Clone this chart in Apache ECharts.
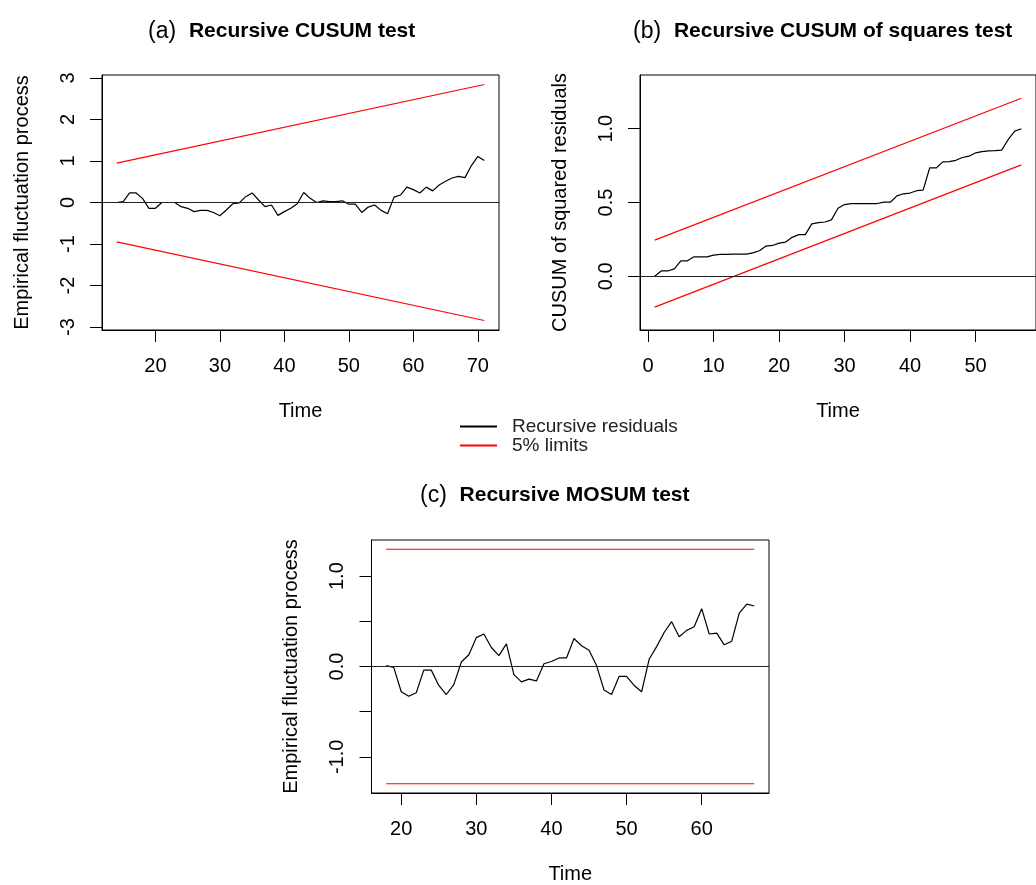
<!DOCTYPE html>
<html>
<head>
<meta charset="UTF-8">
<title>Recursive CUSUM / MOSUM tests</title>
<style>html,body{margin:0;padding:0;background:#fff;}</style>
</head>
<body>
<div id="main" style="width:1036px;height:885px;"></div>
<script src="https://cdn.jsdelivr.net/npm/echarts@6/dist/echarts.min.js"></script>
<script>
// (a) recursive CUSUM, Time 14..71
var cusumStart = 14;
var cusumValues = [0, 0.02, 0.23, 0.23, 0.10, -0.14, -0.14, 0, 0, 0, -0.10, -0.14, -0.22, -0.19, -0.19,
  -0.24, -0.32, -0.18, -0.03, -0.01, 0.14, 0.23, 0.06, -0.10, -0.06, -0.31, -0.22, -0.14, -0.03, 0.24,
  0.10, 0, 0.04, 0.02, 0.02, 0.04, -0.04, -0.04, -0.24, -0.11, -0.06, -0.19, -0.27, 0.13, 0.18, 0.37,
  0.31, 0.23, 0.37, 0.28, 0.42, 0.51, 0.59, 0.63, 0.60, 0.89, 1.11, 1.01];
var cusumUpper = [[14, 0.948], [71, 2.844]];
var cusumLower = [[14, -0.948], [71, -2.844]];
var cusumXTicks = [20, 30, 40, 50, 60, 70];
var cusumYTicks = [-3, -2, -1, 0, 1, 2, 3];

// (b) CUSUM of squares, Time 1..57
var sqStart = 1;
var sqValues = [0, 0.036, 0.036, 0.05, 0.105, 0.105, 0.132, 0.132, 0.132, 0.143, 0.148, 0.148, 0.15, 0.15,
  0.15, 0.159, 0.173, 0.205, 0.209, 0.225, 0.232, 0.264, 0.282, 0.282, 0.355, 0.364, 0.368, 0.382, 0.461,
  0.486, 0.493, 0.493, 0.493, 0.493, 0.493, 0.502, 0.502, 0.545, 0.559, 0.564, 0.58, 0.584, 0.734, 0.734,
  0.775, 0.777, 0.786, 0.805, 0.814, 0.836, 0.845, 0.85, 0.852, 0.855, 0.927, 0.984, 1.0];
var sqUpper = [[1, 0.245], [57, 1.207]];
var sqLower = [[1, -0.209], [57, 0.755]];
var sqXTicks = [0, 10, 20, 30, 40, 50];
var sqYTicks = [0, 0.5, 1.0];

// (c) recursive MOSUM, Time 18..67
var mosumStart = 18;
var mosumValues = [0.01, -0.01, -0.28, -0.33, -0.29, -0.04, -0.04, -0.21, -0.31, -0.20, 0.05, 0.13, 0.32,
  0.36, 0.21, 0.12, 0.25, -0.09, -0.17, -0.14, -0.16, 0.03, 0.055, 0.095, 0.095, 0.31, 0.23, 0.18, 0.01,
  -0.26, -0.31, -0.11, -0.11, -0.21, -0.28, 0.08, 0.22, 0.376, 0.496, 0.33, 0.40, 0.44, 0.64, 0.36, 0.37,
  0.24, 0.28, 0.59, 0.69, 0.67];
var mosumUpper = [[18, 1.297], [67, 1.297]];
var mosumLower = [[18, -1.297], [67, -1.297]];
var mosumXTicks = [20, 30, 40, 50, 60];
var mosumYTicks = [-1, -0.5, 0, 0.5, 1];
var mosumYLabels = [-1, 0, 1];

var FONT = 'Liberation Sans';

function xAxisFor(idx, min, max, ticks) {
  return {
    type: 'value', gridIndex: idx, min: min, max: max,
    name: 'Time', nameLocation: 'middle', nameGap: 71,
    nameTextStyle: {fontFamily: FONT, fontSize: 20, color: '#000'},
    axisLine: {show: true, onZero: false, lineStyle: {color: '#000', width: 1}},
    axisTick: {show: true, length: 12, customValues: ticks, lineStyle: {color: '#000'}},
    axisLabel: {customValues: ticks, margin: 26, fontFamily: FONT, fontSize: 20, color: '#000'},
    splitLine: {show: false}
  };
}

function yAxisFor(idx, min, max, ticks, labels, name, digits) {
  return {
    type: 'value', gridIndex: idx, min: min, max: max,
    name: name, nameLocation: 'middle', nameGap: 70,
    nameTextStyle: {fontFamily: FONT, fontSize: 20, color: '#000'},
    axisLine: {show: true, onZero: false, lineStyle: {color: '#000', width: 1}},
    axisTick: {show: true, length: 12, customValues: ticks, lineStyle: {color: '#000'}},
    axisLabel: {customValues: labels, rotate: 90, margin: 24, fontFamily: FONT, fontSize: 20, color: '#000',
      formatter: function (v) { return v.toFixed(digits); }},
    splitLine: {show: false}
  };
}

function withTime(start, vals) {
  return vals.map(function (v, i) { return [start + i, v]; });
}

function residSeries(idx, data) {
  return {
    name: 'Recursive residuals', type: 'line', xAxisIndex: idx, yAxisIndex: idx,
    data: data, symbol: 'none', lineStyle: {color: '#000', width: 1.2}, itemStyle: {color: '#000'},
    markLine: {silent: true, symbol: 'none', label: {show: false},
      lineStyle: {color: '#222', width: 1, type: 'solid'}, data: [{yAxis: 0}]}
  };
}

function limitSeries(idx, data) {
  return {
    name: '5% limits', type: 'line', xAxisIndex: idx, yAxisIndex: idx,
    data: data, symbol: 'none', lineStyle: {color: '#ff0000', width: 1.1}, itemStyle: {color: '#ff0000'}
  };
}

var chart = echarts.init(document.getElementById('main'));
chart.setOption({
  animation: false,
  backgroundColor: '#fff',
  title: [
    {left: 143, top: 15, text: '{p|(a)  }{t|Recursive CUSUM test}'},
    {left: 628, top: 15, text: '{p|(b)  }{t|Recursive CUSUM of squares test}'},
    {left: 415, top: 479, text: '{p|(c)  }{t|Recursive MOSUM test}'}
  ].map(function (t) {
    t.textStyle = {fontWeight: 'normal', rich: {
      p: {fontFamily: FONT, fontSize: 23, fontWeight: 'normal', color: '#000'},
      t: {fontFamily: FONT, fontSize: 21, fontWeight: 'bold', color: '#000'}
    }};
    return t;
  }),
  legend: {
    orient: 'vertical', left: 455, top: 412, itemGap: 0,
    itemWidth: 37, itemHeight: 2, icon: 'rect',
    textStyle: {fontFamily: FONT, fontSize: 19, color: '#222', lineHeight: 17.6, padding: [0, 0, 0, 10]},
    data: ['Recursive residuals', '5% limits']
  },
  grid: [
    {left: 102, top: 75, width: 397, height: 255},
    {left: 640, top: 75, width: 398, height: 255},
    {left: 371.5, top: 540, width: 397.5, height: 256}
  ].map(function (g) {
    g.show = true; g.borderColor = '#000'; g.borderWidth = 1; g.containLabel = false;
    return g;
  }),
  xAxis: [
    xAxisFor(0, 11.72, 73.28, cusumXTicks),
    xAxisFor(1, -1.24, 59.24, sqXTicks),
    xAxisFor(2, 16.04, 68.96, mosumXTicks)
  ],
  yAxis: [
    yAxisFor(0, -3.072, 3.072, cusumYTicks, cusumYTicks, 'Empirical fluctuation process', 0),
    yAxisFor(1, -0.364, 1.364, sqYTicks, sqYTicks, 'CUSUM of squared residuals', 1),
    yAxisFor(2, -1.4, 1.4, mosumYTicks, mosumYLabels, 'Empirical fluctuation process', 1)
  ],
  series: [
    residSeries(0, withTime(cusumStart, cusumValues)),
    limitSeries(0, cusumUpper),
    limitSeries(0, cusumLower),
    residSeries(1, withTime(sqStart, sqValues)),
    limitSeries(1, sqUpper),
    limitSeries(1, sqLower),
    residSeries(2, withTime(mosumStart, mosumValues)),
    limitSeries(2, mosumUpper),
    limitSeries(2, mosumLower)
  ]
});
</script>
</body>
</html>
